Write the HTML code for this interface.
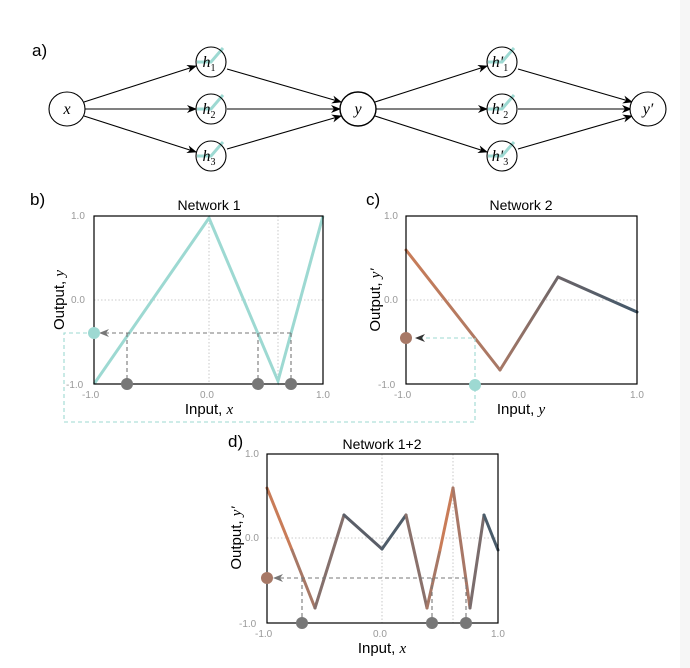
<!DOCTYPE html>
<html><head><meta charset="utf-8"><style>
html,body{margin:0;padding:0;background:#fff;}
svg{display:block;}
text{font-family:"Liberation Sans",sans-serif;}
.m{font-family:"Liberation Serif",serif;font-style:italic;}
.t{font-size:10px;fill:#999;}
</style></head><body>
<svg width="690" height="668" viewBox="0 0 690 668" xmlns="http://www.w3.org/2000/svg">
<defs>
<marker id="ar" markerWidth="10" markerHeight="8" refX="9" refY="4" orient="auto" markerUnits="userSpaceOnUse"><path d="M0,0 L10,4 L0,8 L3,4z" fill="#000"/></marker>
<marker id="ag" markerWidth="10" markerHeight="8" refX="9" refY="4" orient="auto" markerUnits="userSpaceOnUse"><path d="M0,0 L10,4 L0,8 L3,4z" fill="#777"/></marker>
<marker id="at" markerWidth="10" markerHeight="8" refX="9" refY="4" orient="auto" markerUnits="userSpaceOnUse"><path d="M0,0 L10,4 L0,8 L3,4z" fill="#333"/></marker>
</defs>
<rect width="690" height="668" fill="#fff"/>
<rect x="680" y="0" width="10" height="668" fill="#f6f6f6"/>
<text x="32" y="56" font-size="17">a)</text>
<!-- edges -->
<g stroke="#000" stroke-width="1.1" fill="none" marker-end="url(#ar)">
<line x1="84" y1="102" x2="196" y2="66"/>
<line x1="85" y1="109" x2="196" y2="109"/>
<line x1="84" y1="116" x2="196" y2="152"/>
<line x1="227" y1="69" x2="341" y2="102"/>
<line x1="227" y1="109" x2="340" y2="109"/>
<line x1="227" y1="149" x2="341" y2="116"/>
<line x1="375" y1="102" x2="487" y2="66"/>
<line x1="376" y1="109" x2="487" y2="109"/>
<line x1="375" y1="116" x2="487" y2="152"/>
<line x1="518" y1="69" x2="632" y2="102"/>
<line x1="518" y1="109" x2="631" y2="109"/>
<line x1="518" y1="149" x2="632" y2="116"/>
</g>
<g fill="#fff" stroke="#000" stroke-width="1.1">
<ellipse cx="67" cy="109" rx="18" ry="17"/>
<ellipse cx="358" cy="109" rx="18" ry="17" stroke-width="1.4"/>
<ellipse cx="648" cy="109" rx="18" ry="17"/>
</g>
<g stroke="#9dd9d2" stroke-width="3" fill="none">
<polyline points="197,62 211,62 223,48"/><polyline points="197,109 211,109 223,95"/><polyline points="197,156 211,156 223,142"/>
<polyline points="488,62 502,62 514,48"/><polyline points="488,109 502,109 514,95"/><polyline points="488,156 502,156 514,142"/>
</g>
<g fill="none" stroke="#000" stroke-width="1.1">
<circle cx="211" cy="62" r="15"/><circle cx="211" cy="109" r="15"/><circle cx="211" cy="156" r="15"/>
<circle cx="502" cy="62" r="15"/><circle cx="502" cy="109" r="15"/><circle cx="502" cy="156" r="15"/>
</g>
<g class="m" font-size="16" text-anchor="middle">
<text x="67" y="114" class="m">x</text><text x="358" y="114" class="m">y</text><text x="648" y="114" class="m">y′</text>
<text x="209" y="67" class="m">h<tspan font-size="10" dy="4" font-style="normal">1</tspan></text>
<text x="209" y="114" class="m">h<tspan font-size="10" dy="4" font-style="normal">2</tspan></text>
<text x="209" y="161" class="m">h<tspan font-size="10" dy="4" font-style="normal">3</tspan></text>
<text x="500" y="67" class="m">h′<tspan font-size="10" dy="4" font-style="normal">1</tspan></text>
<text x="500" y="114" class="m">h′<tspan font-size="10" dy="4" font-style="normal">2</tspan></text>
<text x="500" y="161" class="m">h′<tspan font-size="10" dy="4" font-style="normal">3</tspan></text>
</g>

<!-- panel b -->
<text x="30" y="205" font-size="17">b)</text>
<text x="209" y="210" font-size="14" text-anchor="middle">Network 1</text>
<g stroke="#bbb" stroke-width="0.8" stroke-dasharray="1.5,2"><line x1="94" y1="300" x2="323" y2="300"/><line x1="209" y1="216" x2="209" y2="384"/><line x1="278" y1="216" x2="278" y2="384"/></g>
<polyline points="94,384 209,218 278,381 323,216" fill="none" stroke="#9dd9d2" stroke-width="3"/>
<g stroke="#777" stroke-width="1.1" stroke-dasharray="4,3" fill="none">
<line x1="291" y1="333" x2="100" y2="333" marker-end="url(#ag)"/>
<line x1="127" y1="333" x2="127" y2="384"/><line x1="258" y1="333" x2="258" y2="384"/><line x1="291" y1="333" x2="291" y2="384"/>
</g>
<polyline points="94,333 64,333 64,422 475,422 475,384" fill="none" stroke="#9dd9d2" stroke-width="1.1" stroke-dasharray="4,3"/>
<rect x="94" y="216" width="229" height="168" fill="none" stroke="#000" stroke-width="1.2"/>
<circle cx="94" cy="333" r="6" fill="#9dd9d2"/>
<g fill="#777"><circle cx="127" cy="384" r="6"/><circle cx="258" cy="384" r="6"/><circle cx="291" cy="384" r="6"/></g>
<g class="t"><text x="71" y="219">1.0</text><text x="71" y="303">0.0</text><text x="66" y="388">-1.0</text>
<text x="82" y="398">-1.0</text><text x="200" y="398">0.0</text><text x="316" y="398">1.0</text></g>
<text x="209" y="414" font-size="15" text-anchor="middle">Input, <tspan class="m">x</tspan></text>
<text transform="translate(64,300) rotate(-90)" font-size="15" text-anchor="middle">Output, <tspan class="m">y</tspan></text>

<!-- panel c -->
<defs>
<linearGradient id="c1" gradientUnits="userSpaceOnUse" x1="406" y1="0" x2="500" y2="0"><stop offset="0" stop-color="#c97c58"/><stop offset="1" stop-color="#a77866"/></linearGradient>
<linearGradient id="c2" gradientUnits="userSpaceOnUse" x1="500" y1="0" x2="558" y2="0"><stop offset="0" stop-color="#a77866"/><stop offset="1" stop-color="#6d6668"/></linearGradient>
<linearGradient id="c3" gradientUnits="userSpaceOnUse" x1="558" y1="0" x2="637" y2="0"><stop offset="0" stop-color="#6b6468"/><stop offset="1" stop-color="#42586a"/></linearGradient>
</defs>
<text x="366" y="205" font-size="17">c)</text>
<text x="521" y="210" font-size="14" text-anchor="middle">Network 2</text>
<line x1="406" y1="300" x2="637" y2="300" stroke="#bbb" stroke-width="0.8" stroke-dasharray="1.5,2"/>
<line x1="406" y1="250" x2="500" y2="370" stroke="url(#c1)" stroke-width="3" stroke-linecap="round"/>
<line x1="500" y1="370" x2="558" y2="277" stroke="url(#c2)" stroke-width="3" stroke-linecap="round"/>
<line x1="558" y1="277" x2="637" y2="312" stroke="url(#c3)" stroke-width="3" stroke-linecap="round"/>
<polyline points="475,384 475,338 416,338" fill="none" stroke="#9dd9d2" stroke-width="1.1" stroke-dasharray="4,3" marker-end="url(#at)"/>
<rect x="406" y="216" width="231" height="168" fill="none" stroke="#000" stroke-width="1.2"/>
<circle cx="406" cy="338" r="6" fill="#a77866"/>
<circle cx="475" cy="385" r="6" fill="#9dd9d2"/>
<g class="t"><text x="384" y="219">1.0</text><text x="384" y="303">0.0</text><text x="378" y="388">-1.0</text>
<text x="394" y="398">-1.0</text><text x="512" y="398">0.0</text><text x="630" y="398">1.0</text></g>
<text x="521" y="414" font-size="15" text-anchor="middle">Input, <tspan class="m">y</tspan></text>
<text transform="translate(380,300) rotate(-90)" font-size="15" text-anchor="middle">Output, <tspan class="m">y′</tspan></text>

<!-- panel d -->
<text x="228" y="447" font-size="17">d)</text>
<text x="382" y="449" font-size="14" text-anchor="middle">Network 1+2</text>
<g stroke="#bbb" stroke-width="0.8" stroke-dasharray="1.5,2"><line x1="267" y1="538" x2="498" y2="538"/><line x1="382" y1="454" x2="382" y2="623"/><line x1="453" y1="454" x2="453" y2="623"/></g>
<g stroke-width="3" fill="none" stroke-linecap="round">
<line x1="267" y1="488" x2="292" y2="550" stroke="#c97c58"/>
<line x1="292" y1="550" x2="315" y2="608" stroke="#a77866"/>
<line x1="315" y1="608" x2="344" y2="515" stroke="#85706c"/>
<line x1="344" y1="515" x2="382" y2="549" stroke="#5a5e68"/>
<line x1="382" y1="549" x2="406" y2="515" stroke="#4f5d6a"/>
<line x1="406" y1="515" x2="427" y2="608" stroke="#8a716b"/>
<line x1="427" y1="608" x2="440" y2="550" stroke="#a77866"/>
<line x1="440" y1="550" x2="453" y2="488" stroke="#c97c58"/>
<line x1="453" y1="488" x2="470" y2="608" stroke="#a87766"/>
<line x1="470" y1="608" x2="484" y2="515" stroke="#7a6c6c"/>
<line x1="484" y1="515" x2="498" y2="550" stroke="#4a5c6a"/>
</g>
<g stroke="#777" stroke-width="1.1" stroke-dasharray="4,3" fill="none">
<line x1="466" y1="578" x2="274" y2="578" marker-end="url(#ag)"/>
<line x1="302" y1="578" x2="302" y2="623"/><line x1="432" y1="578" x2="432" y2="623"/><line x1="466" y1="578" x2="466" y2="623"/>
</g>
<rect x="267" y="454" width="231" height="169" fill="none" stroke="#000" stroke-width="1.2"/>
<circle cx="267" cy="578" r="6" fill="#a77866"/>
<g fill="#777"><circle cx="302" cy="623" r="6"/><circle cx="432" cy="623" r="6"/><circle cx="466" cy="623" r="6"/></g>
<g class="t"><text x="245" y="457">1.0</text><text x="245" y="541">0.0</text><text x="239" y="627">-1.0</text>
<text x="255" y="637">-1.0</text><text x="373" y="637">0.0</text><text x="491" y="637">1.0</text></g>
<text x="382" y="653" font-size="15" text-anchor="middle">Input, <tspan class="m">x</tspan></text>
<text transform="translate(241,538) rotate(-90)" font-size="15" text-anchor="middle">Output, <tspan class="m">y′</tspan></text>
</svg>
</body></html>
